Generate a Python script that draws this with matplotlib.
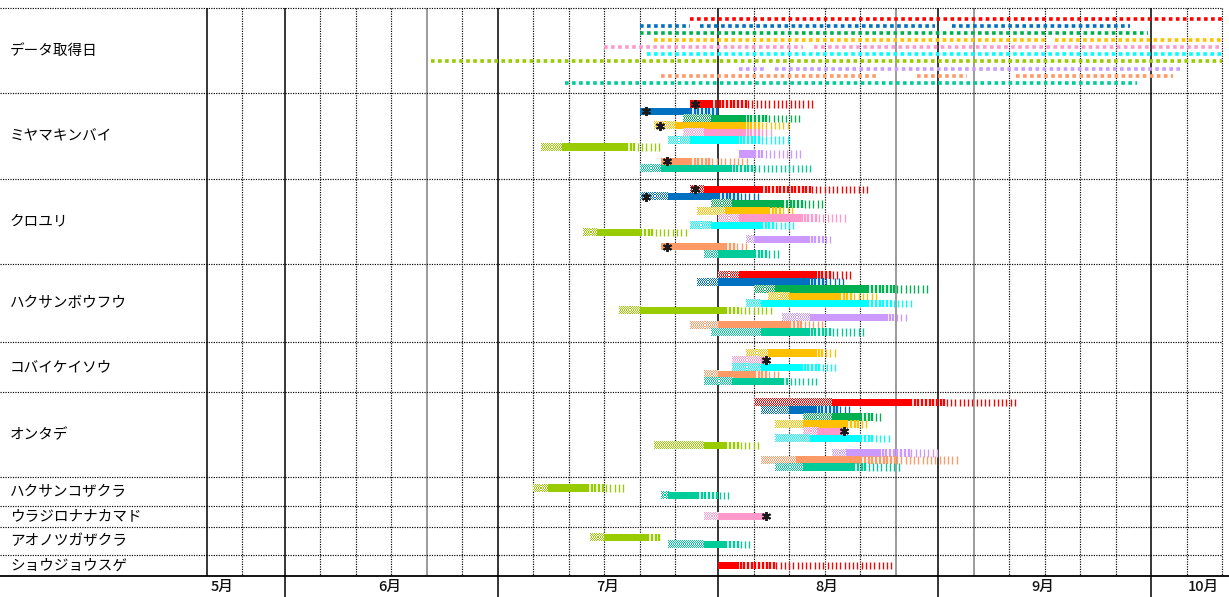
import datetime as dt

import numpy as np
import matplotlib
matplotlib.use("Agg")
import matplotlib.pyplot as plt
from matplotlib.colors import to_rgba

plt.rcParams['font.family'] = ['Noto Sans CJK JP', 'DejaVu Sans']

# ---------------------------------------------------------------- data
# one colour per observation series
series_colors = ['#FF0000', '#0070C0', '#00B050', '#FFC000', '#FF99CC',
                 '#00FFFF', '#99CC00', '#CC99FF', '#FF9966', '#00CC99']

data_row_label = 'データ取得日'
species = ['ミヤマキンバイ', 'クロユリ', 'ハクサンボウフウ', 'コバイケイソウ', 'オンタデ',
           'ハクサンコザクラ', 'ウラジロナナカマド', 'アオノツガザクラ', 'ショウジョウスゲ']

# days of year on which each series was recorded (start, end)
obs_periods = [
    [(209, 284)],
    [(202, 209), (210.5, 243.5), (246, 271)],
    [(202, 273.5)],
    [(204, 259), (260.5, 284)],
    [(197, 225), (226.5, 284)],
    [(203, 284)],
    [(172.5, 284)],
    [(216, 219.5), (221, 278.5)],
    [(205, 235.5), (241, 248), (255, 277)],
    [(191.5, 272)],
]

# (series, bud start, flowering start, flowering end, dense fruit end, fruit end, peak mark)
miyamakinbai = [
    (0, None, 209, 212, 217, 226.5, 209.7),
    (1, None, 202, 209, 213, 213, 202.8),
    (2, 208, 212, 217, 220, 225, None),
    (3, 204, 207, 217, 219, 223, 204.8),
    (4, 208, 211, 217, 219, 221, None),
    (5, 206, 209, 216, 219, 223, None),
    (6, 188, 191, 200, 201.5, 205, None),
    (7, None, 216, 218, 219.5, 225, None),
    (8, None, 205, 209, 212, 217.5, 205.8),
    (9, 202, 205, 215, 218, 226.5, None),
]
kuroyuri = [
    (0, 209, 211, 219, 226, 234.5, 209.7),
    (1, 202, 206, 213, 216, 219, 202.8),
    (2, 212, 215, 222, 225, 228, None),
    (3, 210, 214, 220, 222, 224, None),
    (4, 213, 216, 225, 227, 231, None),
    (5, 209, 212, 219, 221, 224, None),
    (6, 194, 196, 202, 204, 209, None),
    (7, 217, 218, 226, 228, 229, None),
    (8, None, 205, 214, 215.5, 217.5, 205.8),
    (9, 211, 213, 218, 220, 221.5, None),
]
hakusanboufuu = [
    (0, 213, 216, 227, 229, 232, None),
    (1, 210, 213, 226, 228, 231, None),
    (2, 218, 221, 234, 238, 243, None),
    (3, 220, 223, 230, 232, 235.5, None),
    (5, 217, 219, 234, 237.5, 240.5, None),
    (6, 199, 202, 214, 216, 221, None),
    (7, 222, 226, 237, 238, 240, None),
    (8, 209, 213, 223, 225, 228, None),
    (9, 212, 219, 226, 229, 234, None),
]
kobaikeisou = [
    (3, 217, 220, 227, 228, 230, None),
    (4, 215, 219, 220, 220, 220, 219.7),
    (5, 215, 219, 225, 227.5, 230, None),
    (8, 211, 213, 218, 220, 221.5, None),
    (9, 211, 215, 222, 223, 227, None),
]
ontade = [
    (0, 218, 229, 240, 245, 255, None),
    (1, 219, 223, 227, 230, 232, None),
    (2, 225, 229, 233, 235, 236, None),
    (3, 221, 225, 231, 233, 234, None),
    (4, 225, 227, 231, 231, 231, 230.7),
    (5, 221, 226, 233, 235, 237.5, None),
    (6, 204, 211, 214, 216, 219, None),
    (7, 229, 231, 236, 240, 244, None),
    (8, 219, 224, 233, 238, 247, None),
    (9, 221, 225, 232, 234, 239, None),
]
hakusankozakura = [
    (6, 187, 189, 194.5, 197, 200, None),
    (9, 205, 206, 210, 213, 215, None),
]
urajironanakamado = [
    (4, 211, 213, 220, 220, 220, 219.7),
]
aonotsugazakura = [
    (6, 195, 197, 203, 205, 205, None),
    (9, 206, 211, 214, 216, 217.5, None),
]
shoujousuge = [
    (0, None, 213, 216, 221, 237.5, None),
]

phenology = [miyamakinbai, kuroyuri, hakusanboufuu, kobaikeisou, ontade,
             hakusankozakura, urajironanakamado, aonotsugazakura, shoujousuge]

month_labels = ['5月', '6月', '7月', '8月', '9月', '10月']

# ---------------------------------------------------------------- layout
W, H = 1229, 597
PX_PER_DAY = 7.1
X_LEFT = 152 - 285 / PX_PER_DAY            # day value at the left edge
FIRST_DAY, LAST_DAY = 141, 284             # May 21 .. Oct 11
TOP = 8.0
SLOT = 7.15
PAD = 6.95
LABEL_COL_X = X_LEFT + 10 / PX_PER_DAY
YEAR = 2023


def doy(month, day):
    return dt.date(YEAR, month, day).timetuple().tm_yday


fig = plt.figure(figsize=(W / 100, H / 100), dpi=100)
ax = fig.add_axes([0, 0, 1, 1])
ax.axis('off')

counts = [len(series_colors)] + [len(rows) for rows in phenology]
row_tops = [TOP]
for n in counts:
    row_tops.append(row_tops[-1] + n * SLOT + 2 * PAD)
BOTTOM = row_tops[-1]


def checker(x0, x1, y0, y1, color):
    """Bud period: fine colour/white checkerboard."""
    w = max(1, int(round((x1 - x0) * PX_PER_DAY)))
    h = max(1, int(round(y1 - y0)))
    img = np.ones((h, w, 4))
    mask = (np.add.outer(np.arange(h), np.arange(w)) % 2) == 0
    img[mask] = to_rgba(color)
    ax.imshow(img, extent=(x0, x1, y1, y0), aspect='auto',
              interpolation='nearest', zorder=3)


def stripes(x0, x1, y0, y1, color, pitch, width):
    """Fruiting period: vertical stripes."""
    if x1 - x0 < 0.2:
        return
    xs = np.arange(x0 + pitch * 0.35, x1, pitch)
    ax.vlines(xs, y0, y1, colors=color, linewidth=width, zorder=3,
              capstyle='butt')


# ---------------------------------------------------------------- grid
grid_days = []
for m in range(5, 11):
    for d in (1, 6, 11, 16, 21, 26):
        g = doy(m, d)
        if FIRST_DAY <= g <= LAST_DAY:
            grid_days.append((m, d, g))

gray_days = {doy(6, 21), doy(8, 26), doy(9, 6)}
for m, d, g in grid_days:
    if d == 1 or g == FIRST_DAY:
        ax.vlines(g, TOP, BOTTOM, colors='black', linewidth=1.1, zorder=1)
    elif g in gray_days:
        ax.vlines(g, TOP, BOTTOM, colors='#8a8a8a', linewidth=1.2, zorder=1)
    else:
        ax.vlines(g, TOP, BOTTOM, colors='black', linewidth=0.85,
                  linestyles=(0, (1, 1.1)), zorder=1)

for y in row_tops[:-1]:
    ax.hlines(y, X_LEFT, LAST_DAY, colors='black', linewidth=0.85,
              linestyles=(0, (1, 1.1)), zorder=1)
ax.hlines(BOTTOM, X_LEFT, X_LEFT + W / PX_PER_DAY, colors='black',
          linewidth=1.3, zorder=4)

# month strip
for m in range(6, 11):
    ax.vlines(doy(m, 1), BOTTOM, H, colors='black', linewidth=1.1, zorder=4)
label_x = [143.1, 166.8, 197.5, 228.3, 258.8, 281.4]
for txt, x in zip(month_labels, label_x):
    ax.text(x, (BOTTOM + H) / 2 + 0.5, txt, ha='center', va='center',
            fontsize=10.5, fontweight='medium', color='#111111')

# ---------------------------------------------------------------- labels
ax.text(LABEL_COL_X, (row_tops[0] + row_tops[1]) / 2, data_row_label,
        ha='left', va='center', fontsize=10.5, color='black')
for i, name in enumerate(species):
    ax.text(LABEL_COL_X, (row_tops[i + 1] + row_tops[i + 2]) / 2, name,
            ha='left', va='center', fontsize=10.5, color='black')

# ---------------------------------------------------------------- data row
for i, (col, periods) in enumerate(zip(series_colors, obs_periods)):
    yc = row_tops[0] + PAD + (i + 0.5) * SLOT
    for s, e in periods:
        ax.plot([s, e], [yc, yc], color=col, linewidth=2.6,
                linestyle=(0, (1, 0.95)), dash_capstyle='butt',
                solid_capstyle='butt', zorder=3)

# ---------------------------------------------------------------- bars
for r, rows in enumerate(phenology):
    top = row_tops[r + 1]
    for j, (s, bud, f0, f1, dense_end, end, peak) in enumerate(rows):
        col = series_colors[s]
        y0 = top + PAD + j * SLOT
        y1 = y0 + SLOT + 0.3
        if bud is not None and f0 > bud:
            checker(bud, f0, y0, y1, col)
        ax.fill_between([f0, f1], y0, y1, color=col, linewidth=0, zorder=3)
        stripes(f1, dense_end, y0, y1, col, 0.52, 1.7)
        stripes(dense_end, end, y0, y1, col, 0.6, 0.95)
        if peak is not None:
            ax.plot(peak, (y0 + y1) / 2, marker=(6, 2, 0), markersize=6.5,
                    markeredgewidth=1.4, color='#1a1a1a', zorder=5)

ax.set_xlim(X_LEFT, X_LEFT + W / PX_PER_DAY)
ax.set_ylim(H, 0)
fig.savefig('out.png', dpi=100)
